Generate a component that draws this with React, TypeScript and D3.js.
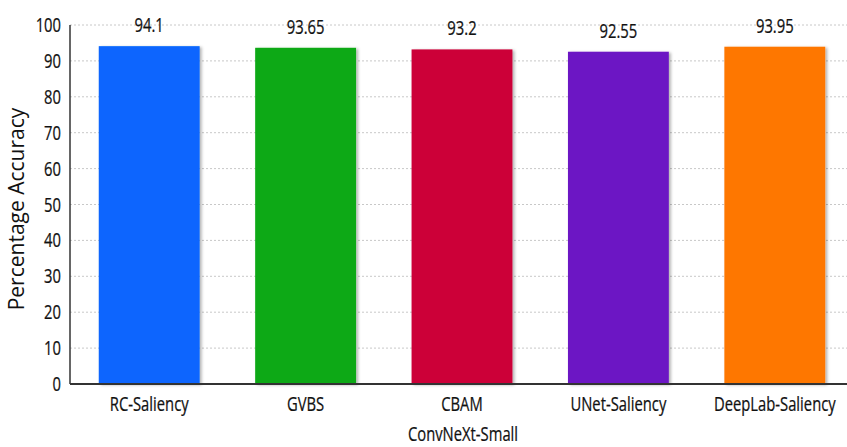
import React from "react";
import * as d3 from "d3";

const categories = ["RC-Saliency", "GVBS", "CBAM", "UNet-Saliency", "DeepLab-Saliency"];
const accuracy = [94.1, 93.65, 93.2, 92.55, 93.95];
const barColors = ["#0765FE", "#0AA915", "#CC0339", "#6C17C4", "#FE7700"];
const yTicks = [0, 10, 20, 30, 40, 50, 60, 70, 80, 90, 100];

const W = 847;
const H = 447;
const left = 70;
const top = 25;
const bottom = 384;
const FONT = "'Open Sans', 'Noto Sans', sans-serif";
const SX = 0.74;

// Narrow-looking labels: horizontally compressed text
function NarrowText({ x, y, size, anchor, children }: any) {
  return (
    <text
      transform={`translate(${x},${y}) scale(${SX},1)`}
      fontSize={size}
      fontFamily={FONT}
      textAnchor={anchor}
      fill="#111"
      stroke="#111"
      strokeWidth={0.25}
    >
      {children}
    </text>
  );
}

export default function App() {
  const x = d3
    .scaleBand<string>()
    .domain(categories)
    .range([71, 853])
    .paddingInner(0.355)
    .paddingOuter(0.1775);
  const y = d3.scaleLinear().domain([0, 100]).range([bottom, top]);

  return (
    <svg
      width={W}
      height={H}
      style={{ position: "absolute", left: 0, top: 0, background: "#fff" }}
    >
      <defs>
        <filter id="barShadow" x="-10%" y="-10%" width="130%" height="130%">
          <feDropShadow dx="2" dy="1" stdDeviation="1.5" floodColor="#000" floodOpacity="0.3" />
        </filter>
      </defs>

      {yTicks.slice(1).map((t) => (
        <line
          key={"g" + t}
          x1={left}
          x2={W}
          y1={y(t)}
          y2={y(t)}
          stroke="#c8c8c8"
          strokeWidth={1}
          strokeDasharray="2,2"
        />
      ))}

      {categories.map((c, i) => (
        <rect
          key={c}
          x={x(c)}
          y={y(accuracy[i])}
          width={x.bandwidth()}
          height={bottom - y(accuracy[i])}
          fill={barColors[i]}
          filter="url(#barShadow)"
        />
      ))}

      <line x1={left} x2={left} y1={top} y2={bottom} stroke="#333" strokeWidth={1.5} />
      <line x1={left} x2={W} y1={bottom} y2={bottom} stroke="#333" strokeWidth={2} />

      {yTicks.map((t) => (
        <NarrowText key={"t" + t} x={61} y={y(t) + 7} size={20} anchor="end">
          {t}
        </NarrowText>
      ))}

      {categories.map((c, i) => (
        <NarrowText
          key={"v" + c}
          x={x(c)! + x.bandwidth() / 2}
          y={y(accuracy[i]) - 14}
          size={20}
          anchor="middle"
        >
          {accuracy[i]}
        </NarrowText>
      ))}

      {categories.map((c) => (
        <NarrowText key={"c" + c} x={x(c)! + x.bandwidth() / 2} y={411} size={20} anchor="middle">
          {c}
        </NarrowText>
      ))}

      <NarrowText x={463} y={441} size={20} anchor="middle">
        ConvNeXt-Small
      </NarrowText>
      <text
        transform={`translate(24,209) rotate(-90)`}
        fontSize={21}
        fontFamily={FONT}
        textAnchor="middle"
        fill="#111"
      >
        Percentage Accuracy
      </text>
    </svg>
  );
}
